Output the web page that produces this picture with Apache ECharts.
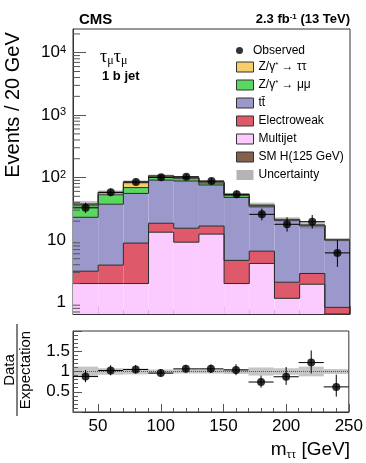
<!DOCTYPE html>
<html><head><meta charset="utf-8">
<script src="https://cdn.jsdelivr.net/npm/echarts@6/dist/echarts.min.js"></script>
<style>html,body{margin:0;padding:0;background:#fff}#c{width:366px;height:463px}</style>
</head><body><div id="c"></div>
<script>
// ---------- data ----------
const binEdges   = [30,50,70,90,110,130,150,170,190,210,230,250];
const binCenters = [40,60,80,100,120,140,160,180,200,220,240];
const multijet    = [2.0,2.0,2.0,13.3,9.2,12.4,2.0,4.2,1.16,1.95,0.3];
const electroweak = [1.15,1.95,6.9,5.2,6.2,4.3,2.7,2.4,0.94,0.95,0.53];
const ttbar       = [19.9,33.4,46.7,72.5,72.6,59.3,43.3,27.4,18.4,13.9,9.07];
const zmumu       = [13,15.6,13.4,9,8,6,3.5,1.2,0.5,0.3,0.1];
const ztautau     = [1.5,4.5,15,6,3.5,3,1.5,0.8,0.3,0.2,0.1];
const smHiggs     = [0.1,0.2,0.3,0.4,0.4,0.3,0.2,0.1,0.05,0.05,0.03];
const relUnc      = [0.12,0.08,0.07,0.05,0.05,0.05,0.06,0.1,0.08,0.12,0.06];
const observed    = [32.7,58,85,101,103,88,54,25.7,17.8,19.6,6.2];
const obsErrLo    = [5.7,7.6,9.2,10.1,10.2,9.4,7.3,5.1,4.2,4.4,2.5];
const obsErrHi    = [6.8,8.7,10.3,11.1,11.2,10.4,8.4,6.2,5.3,5.5,3.7];
const ratio       = [0.875,1.025,1.05,0.96,1.065,1.065,1.04,0.74,0.87,1.22,0.62];
const ratioErrLo  = [0.14,0.12,0.1,0.09,0.09,0.1,0.13,0.14,0.2,0.27,0.24];
const ratioErrHi  = [0.16,0.13,0.11,0.1,0.1,0.11,0.14,0.16,0.24,0.3,0.3];
const ratioTickLabels = ['0.5','1','1.5'];
const xTickLabels = ['50','100','150','200','250'];

const Y_MIN = 0.65, Y_MAX = 24000;
const FONT = '"Liberation Sans", Arial, Helvetica, sans-serif';
const SERIF = '"Liberation Serif", "DejaVu Serif", serif';

const chart = echarts.init(document.getElementById('c'), null, {renderer:'canvas'});

function renderStep(params, api){
  const c = api.visual('color');
  const lo = Math.max(api.value(2), Y_MIN), hi = Math.max(api.value(3), Y_MIN), nx = Math.max(api.value(4), Y_MIN);
  const pA = api.coord([api.value(0), hi]);
  const pB = api.coord([api.value(1), lo]);
  const pN = api.coord([api.value(1), nx]);
  return {type:'group', children:[
    {type:'rect', shape:{x:pA[0], y:pA[1], width:pB[0]-pA[0], height:pB[1]-pA[1]}, style:{fill:c}, z2:0},
    {type:'polyline', shape:{points:[[pA[0],pA[1]],[pB[0],pA[1]],[pB[0],pN[1]]]}, style:{stroke:'#2a2a2a', lineWidth:1, fill:null}, z2:5}
  ]};
}
function renderBand(fill){
  return function(params, api){
    const p0 = api.coord([api.value(0), api.value(3)]);
    const p1 = api.coord([api.value(1), api.value(2)]);
    return {type:'rect', shape:{x:p0[0], y:p0[1], width:p1[0]-p0[0], height:p1[1]-p0[1]}, style:{fill:fill}};
  };
}
function renderErr(params, api){
  const x = api.value(0), y = api.value(1);
  const pT = api.coord([x, y + api.value(3)]);
  const pB = api.coord([x, Math.max(y - api.value(2), 1e-6)]);
  const pL = api.coord([api.value(4), y]);
  const pR = api.coord([api.value(5), y]);
  return {type:'group', children:[
    {type:'line', shape:{x1:pT[0], y1:pT[1], x2:pB[0], y2:pB[1]}, style:{stroke:'#000', lineWidth:1}},
    {type:'line', shape:{x1:pL[0], y1:pL[1], x2:pR[0], y2:pR[1]}, style:{stroke:'#000', lineWidth:1}}
  ]};
}

const layers = [
  {name:'Multijet',      color:'#FBCBFF', vals:multijet},
  {name:'Electroweak',   color:'#DE5A6A', vals:electroweak},
  {name:'tt\u0304',      color:'#9B98CC', vals:ttbar},
  {name:'Z/γ* → μμ',     color:'#5AD75E', vals:zmumu},
  {name:'Z/γ* → ττ',     color:'#F8CE68', vals:ztautau},
  {name:'SM H(125 GeV)', color:'#85604F', vals:smHiggs}
];
let base = binCenters.map(() => 0);
const series = [];
layers.forEach(L => {
  const lo = base.slice();
  const hi = lo.map((b,i) => b + L.vals[i]);
  base = hi;
  series.push({
    type:'custom', name:L.name, xAxisIndex:0, yAxisIndex:0, z:2, clip:true,
    itemStyle:{color:L.color},
    data: hi.map((h,i) => [binEdges[i], binEdges[i+1], lo[i], h, i+1 < hi.length ? hi[i+1] : 0]),
    renderItem: renderStep
  });
});
const total = base;
series.push({
  type:'custom', name:'Uncertainty', xAxisIndex:0, yAxisIndex:0, z:3, clip:true,
  itemStyle:{color:'#b4b4b4'},
  data: total.map((t,i) => [binEdges[i], binEdges[i+1], t*(1-relUnc[i]), t*(1+relUnc[i])]),
  renderItem: renderBand('rgba(110,110,110,0.40)')
});
series.push({
  type:'custom', xAxisIndex:0, yAxisIndex:0, z:4, clip:true,
  data: observed.map((o,i) => [binCenters[i], o, obsErrLo[i], obsErrHi[i], binEdges[i], binEdges[i+1]]),
  renderItem: renderErr
});
series.push({
  type:'scatter', name:'Observed', xAxisIndex:0, yAxisIndex:0, z:5,
  symbolSize:8, itemStyle:{color:'#000'},
  data: observed.map((o,i) => [binCenters[i], o])
});
// minor log ticks on the left axis
const logMinor = [];
for (let e = -1; e <= 4; e++) for (let m = 2; m <= 9; m++) { const v = m*Math.pow(10,e); if (v > Y_MIN && v < Y_MAX) logMinor.push([30, v]); }
series.push({
  type:'custom', xAxisIndex:0, yAxisIndex:0, z:6, silent:true,
  data: logMinor,
  renderItem: (p, api) => { const q = api.coord([api.value(0), api.value(1)]);
    return {type:'line', shape:{x1:q[0], y1:q[1], x2:q[0]+7, y2:q[1]}, style:{stroke:'#555', lineWidth:1}}; }
});
// ratio panel
series.push({
  type:'custom', xAxisIndex:2, yAxisIndex:1, z:3, clip:true,
  data: relUnc.map((u,i) => [binEdges[i], binEdges[i+1], 1-u, 1+u]),
  renderItem: renderBand('rgba(110,110,110,0.40)')
});
series.push({
  type:'line', xAxisIndex:2, yAxisIndex:1, z:3, symbol:'none', silent:true,
  lineStyle:{type:'dotted', color:'#555', width:1},
  data: [[30,1],[250,1]]
});
series.push({
  type:'custom', xAxisIndex:2, yAxisIndex:1, z:4, clip:true,
  data: ratio.map((r,i) => [binCenters[i], r, ratioErrLo[i], ratioErrHi[i], binEdges[i], binEdges[i+1]]),
  renderItem: renderErr
});
series.push({
  type:'scatter', xAxisIndex:2, yAxisIndex:1, z:5,
  symbolSize:8, itemStyle:{color:'#000'},
  data: ratio.map((r,i) => [binCenters[i], r])
});

function xMinorAxis(grid){
  return {type:'value', gridIndex:grid, position:'bottom', min:30, max:250, interval:10,
    axisLine:{show:true, onZero:false, lineStyle:{color:'#333'}},
    axisTick:{show:true, inside:true, length:4, lineStyle:{color:'#555'}},
    axisLabel:{show:false}, splitLine:{show:false}};
}
function xMajorAxis(grid, labels){
  return {type:'value', gridIndex:grid, position:'bottom', min:30, max:250, splitNumber:5,
    axisLine:{show:false, onZero:false},
    axisTick:{show:true, inside:true, length:8, lineStyle:{color:'#555'}},
    axisLabel:{show:labels, showMinLabel:false, color:'#000', fontFamily:FONT, fontSize:17, margin:6,
      formatter: v => { const s = String(v); return xTickLabels.indexOf(s) >= 0 ? s : ''; }},
    splitLine:{show:false}};
}

chart.setOption({
  animation:false,
  backgroundColor:'#fff',
  grid:[
    {left:73, top:29, width:277, height:285, show:true, borderColor:'#333', borderWidth:1, backgroundColor:'transparent'},
    {left:73, top:331, width:277, height:81, show:true, borderColor:'#333', borderWidth:1, backgroundColor:'transparent'}
  ],
  xAxis:[xMinorAxis(0), xMajorAxis(0,false), xMinorAxis(1), xMajorAxis(1,true)],
  yAxis:[
    {type:'log', gridIndex:0, position:'left', min:Y_MIN, max:Y_MAX, logBase:10,
      axisLine:{show:true, lineStyle:{color:'#333'}},
      axisTick:{show:true, inside:true, length:13, lineStyle:{color:'#555'}},
      axisLabel:{color:'#000', fontFamily:FONT, fontSize:17, margin:7, showMinLabel:false, showMaxLabel:false,
        formatter: v => { const e = Math.round(Math.log10(v)); if (Math.abs(v - Math.pow(10,e)) > 1e-6*v) return '';
          if (e === 0) return '1'; if (e === 1) return '10'; return '10{sup|' + e + '}'; },
        rich:{sup:{fontSize:11, fontFamily:FONT, verticalAlign:'top', color:'#000'}}},
      splitLine:{show:false}},
    {type:'value', gridIndex:1, position:'left', min:0, max:2, interval:0.5,
      axisLine:{show:true, lineStyle:{color:'#333'}},
      axisTick:{show:true, inside:true, length:9, lineStyle:{color:'#555'}},
      minorTick:{show:true, splitNumber:5, length:5, lineStyle:{color:'#555'}},
      axisLabel:{color:'#000', fontFamily:FONT, fontSize:17, margin:3,
        formatter: v => { const s = String(v); return ratioTickLabels.indexOf(s) >= 0 ? s : ''; }},
      splitLine:{show:false}}
  ],
  legend:[
    {data:['Observed'], left:231, top:39.5, orient:'vertical', icon:'circle', itemWidth:17, itemHeight:7,
      selectedMode:false, textStyle:{fontFamily:FONT, fontSize:12, color:'#000'}, itemStyle:{borderWidth:0}},
    {data:['Z/γ* → ττ','Z/γ* → μμ','tt\u0304','Electroweak','Multijet','SM H(125 GeV)',{name:'Uncertainty', itemStyle:{borderWidth:0}}],
      left:231, top:56, orient:'vertical', icon:'rect', itemWidth:17, itemHeight:10, itemGap:6,
      selectedMode:false, itemStyle:{borderColor:'#333', borderWidth:1},
      formatter: n => n.replace('*','{sup|*}'),
      textStyle:{fontFamily:FONT, fontSize:12, color:'#000', rich:{sup:{fontSize:8, fontFamily:FONT, verticalAlign:'top', color:'#000'}}}}
  ],
  graphic:[
    {type:'text', left:79, top:12, style:{text:'CMS', font:'bold 15px ' + FONT, fill:'#000'}},
    {type:'text', right:16, top:13, style:{text:'2.3 fb{sup|-1} (13 TeV)', font:'bold 13px ' + FONT, fill:'#000',
      rich:{sup:{font:'bold 8px ' + FONT, verticalAlign:'top', fill:'#000'}}}},
    {type:'text', left:100, top:48, style:{text:'{t|τ}{s|μ}{t|τ}{s|μ}', fill:'#000',
      rich:{t:{font:'18px ' + SERIF, verticalAlign:'top'}, s:{font:'12px ' + SERIF, verticalAlign:'top', padding:[7,0,0,0]}}}},
    {type:'text', left:102, top:70, style:{text:'1 b jet', font:'bold 13px ' + FONT, fill:'#000'}},
    {type:'text', x:13, y:105, rotation:Math.PI/2, style:{text:'Events / 20 GeV', font:'20px ' + FONT, fill:'#000', textAlign:'center', textVerticalAlign:'middle'}},
    {type:'group', x:17, y:370, rotation:Math.PI/2, children:[
      {type:'text', x:0, y:-7, style:{text:'Data', font:'15px ' + FONT, fill:'#000', textAlign:'center', textVerticalAlign:'middle'}},
      {type:'line', shape:{x1:-46, y1:0, x2:46, y2:0}, style:{stroke:'#000', lineWidth:1}},
      {type:'text', x:0, y:9, style:{text:'Expectation', font:'15px ' + FONT, fill:'#000', textAlign:'center', textVerticalAlign:'middle'}}
    ]},
    {type:'text', right:16, top:440, style:{text:'{m|m}{s|ττ}{m| [GeV]}', fill:'#000',
      rich:{m:{font:'19px ' + FONT, verticalAlign:'top'}, s:{font:'12px ' + SERIF, verticalAlign:'top', padding:[9,0,0,0]}}}}
  ],
  series: series
});
</script></body></html>
